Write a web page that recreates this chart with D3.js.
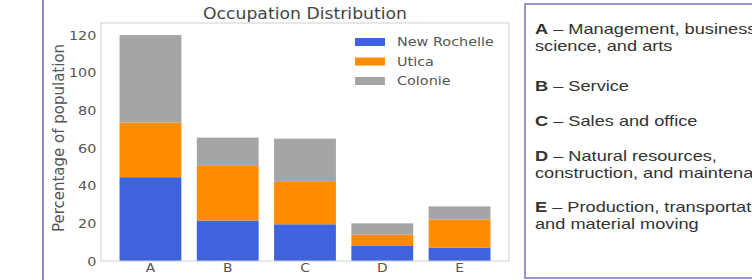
<!DOCTYPE html>
<html>
<head>
<meta charset="utf-8">
<script src="https://cdn.jsdelivr.net/npm/d3@7"></script>
<style>
  body { margin: 0; background: #fff; }
  svg { display: block; }
</style>
</head>
<body>
<div id="chart-area"></div>
<script>
// chart data
const categories = ["A", "B", "C", "D", "E"];
const cities = ["New Rochelle", "Utica", "Colonie"];
const newRochelle = [44.5, 21.5, 19.5, 8, 7];
const utica = [29, 29, 22.5, 6, 15];
const colonie = [46.5, 15, 23, 6, 7];
const yTicks = [0, 20, 40, 60, 80, 100, 120];

const notes = [
  { key: "A", lines: ["Management, business,", "science, and arts"] },
  { key: "B", lines: ["Service"] },
  { key: "C", lines: ["Sales and office"] },
  { key: "D", lines: ["Natural resources,", "construction, and maintenance"] },
  { key: "E", lines: ["Production, transportation,", "and material moving"] }
];

const W = 752, H = 280;
let margin = { top: 23, right: 243, bottom: 19, left: 101 };
let width = W - margin.left - margin.right,
  height = H - margin.top - margin.bottom;

// the picture is a bit wider than tall, text looks stretched sideways
const stretch = 1.15;

let colorPalette = d3.scaleOrdinal()
  .domain(cities)
  .range(["#3f63dd", "#ff8b00", "#a5a5a5"]);

let rows = categories.map((c, i) => ({
  cat: c,
  "New Rochelle": newRochelle[i],
  "Utica": utica[i],
  "Colonie": colonie[i]
}));
let stacked = d3.stack().keys(cities)(rows);

let svg = d3.select("#chart-area")
  .append("svg")
  .attr("width", W)
  .attr("height", H);

// page decorations
svg.append("line")
  .attr("x1", 43).attr("x2", 43).attr("y1", 0).attr("y2", H)
  .attr("stroke", "#8f88c9").attr("stroke-width", 2);

let g = svg.append("g")
  .attr("transform", "translate(" + margin.left + "," + margin.top + ")");

let x = d3.scaleBand()
  .domain(categories)
  .range([0, width])
  .paddingInner(0.2)
  .paddingOuter(0.24);

let y = d3.scaleLinear()
  .domain([0, 126.4])
  .range([height, 0]);

// bars
g.selectAll("g.layer")
  .data(stacked)
  .enter()
  .append("g")
  .attr("class", "layer")
  .attr("fill", d => colorPalette(d.key))
  .selectAll("rect")
  .data(d => d)
  .enter()
  .append("rect")
  .attr("x", d => x(d.data.cat))
  .attr("width", x.bandwidth())
  .attr("y", d => y(d[1]))
  .attr("height", d => y(d[0]) - y(d[1]));

// frame
g.append("rect")
  .attr("x", 0).attr("y", 0)
  .attr("width", width).attr("height", height)
  .attr("fill", "none")
  .attr("stroke", "#cfcfcf")
  .attr("stroke-width", 1);

let tickFont = "DejaVu Sans, sans-serif";

let yAxis = d3.axisLeft(y).tickValues(yTicks).tickSize(0).tickPadding(4);
let yG = g.append("g").call(yAxis);
yG.select(".domain").remove();
yG.selectAll("text")
  .attr("font-family", tickFont)
  .attr("font-size", 12.5)
  .attr("fill", "#555")
  .attr("transform", "scale(" + stretch + ",1)");

let xAxis = d3.axisBottom(x).tickSize(0).tickPadding(2);
let xG = g.append("g")
  .attr("transform", "translate(0," + height + ")")
  .call(xAxis);
xG.select(".domain").remove();
xG.selectAll("text")
  .attr("font-family", tickFont)
  .attr("font-size", 12)
  .attr("fill", "#555")
  .attr("transform", "scale(" + stretch + ",1)");

// title
g.append("text")
  .attr("transform", "translate(" + width / 2 + ",-4) scale(" + stretch + ",1)")
  .attr("text-anchor", "middle")
  .attr("font-family", tickFont)
  .attr("font-size", 15)
  .attr("fill", "#444")
  .text("Occupation Distribution");

// y label
g.append("text")
  .attr("transform", "translate(" + (-37) + "," + (height / 2 - 4) + ") rotate(-90)")
  .attr("text-anchor", "middle")
  .attr("font-family", tickFont)
  .attr("font-size", 15)
  .attr("fill", "#555")
  .text("Percentage of population");

// legend
let size = 30;
let leg = g.append("g").attr("transform", "translate(254, 15)");
leg.selectAll("rect")
  .data(cities)
  .enter()
  .append("rect")
  .attr("x", 0)
  .attr("y", (d, i) => i * 19.5)
  .attr("width", size)
  .attr("height", 8)
  .attr("fill", d => colorPalette(d));
leg.selectAll("text")
  .data(cities)
  .enter()
  .append("text")
  .attr("transform", (d, i) => "translate(" + (size + 12) + "," + (i * 19.5 + 4) + ") scale(1.2,1)")
  .attr("dy", "0.35em")
  .attr("font-family", tickFont)
  .attr("font-size", 12)
  .attr("fill", "#555")
  .text(d => d);

// notes box
svg.append("rect")
  .attr("x", 525).attr("y", 4)
  .attr("width", 260).attr("height", 274)
  .attr("fill", "none")
  .attr("stroke", "#9c94cf")
  .attr("stroke-width", 2);

let noteY = [29, 86, 121, 156, 207];
let lineGap = 17;
let notesG = svg.append("g").attr("font-family", "Liberation Sans, Arial, sans-serif")
  .attr("font-size", 14).attr("fill", "#333");

notes.forEach((n, i) => {
  let t = notesG.append("text")
    .attr("transform", "translate(535," + noteY[i] + ") scale(1.3,1)")
    .attr("dy", "0.35em");
  t.append("tspan").attr("font-weight", "bold").text(n.key);
  t.append("tspan").text(" \u2013 " + n.lines[0]);
  if (n.lines[1]) {
    notesG.append("text")
      .attr("transform", "translate(535," + (noteY[i] + lineGap) + ") scale(1.3,1)")
      .attr("dy", "0.35em")
      .text(n.lines[1]);
  }
});
</script>
</body>
</html>
